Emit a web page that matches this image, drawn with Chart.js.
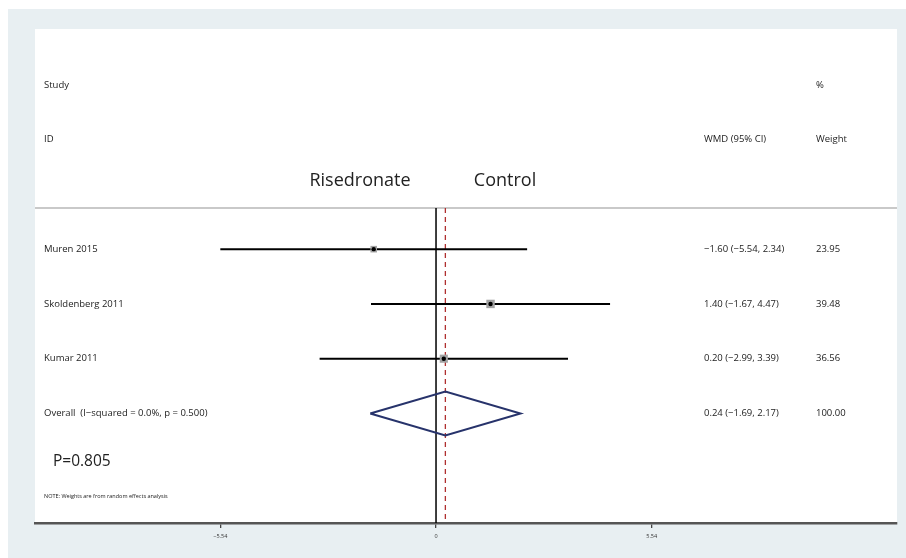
<!DOCTYPE html>
<html><head><meta charset="utf-8">
<script src="https://cdn.jsdelivr.net/npm/chart.js@4/dist/chart.umd.min.js"></script>
<style>html,body{margin:0;padding:0;background:#fff;}#wrap{width:906px;height:558px;position:relative}</style>
</head><body><div id="wrap"><canvas id="c" width="906" height="558"></canvas></div>
<script>
// ---- data ----
const studies = ["Muren 2015", "Skoldenberg 2011", "Kumar 2011"];
const wmd = [-1.60, 1.40, 0.20];
const ciLow = [-5.54, -1.67, -2.99];
const ciHigh = [2.34, 4.47, 3.39];
const weights = [23.95, 39.48, 36.56];
const wmdLabels = ["\u22121.60 (\u22125.54, 2.34)", "1.40 (\u22121.67, 4.47)", "0.20 (\u22122.99, 3.39)"];
const weightLabels = ["23.95", "39.48", "36.56"];
const overallLabel = "Overall  (I\u2212squared = 0.0%, p = 0.500)";
const overallEst = 0.24;
const overallLow = -1.69;
const overallHigh = 2.17;
const overallText = "0.24 (\u22121.69, 2.17)";
const overallWeight = "100.00";
const tickValues = [-5.54, 0, 5.54];
const tickLabels = ["\u22125.54", "0", "5.54"];
const rows = [1, 2, 3];
const overallRow = 4;

// ---- layout ----
const X_MIN = -10.30, X_MAX = 11.84;
const Y_MIN = -3.02, Y_MAX = 6.0;
const RULE_Y = 0.25;
const FONT = "'Open Sans', 'Noto Sans', sans-serif";
const COL_STUDY = 44, COL_WMD = 704, COL_WEIGHT = 816;

const seg = (x1, y1, x2, y2) => [{x: x1, y: y1}, {x: x2, y: y2}];
const lineDs = (data, color, width, extra) => Object.assign({
  type: 'line', data, showLine: true, borderColor: color, borderWidth: width,
  pointRadius: 0, fill: false, tension: 0
}, extra || {});

const datasets = [];
// center dots (top)
datasets.push({
  type: 'scatter', data: wmd.map((v, i) => ({x: v, y: rows[i]})),
  pointStyle: 'circle', pointRadius: 2.2, backgroundColor: '#000', borderWidth: 0
});
// weight boxes
datasets.push({
  type: 'scatter', data: wmd.map((v, i) => ({x: v, y: rows[i]})),
  pointStyle: 'rect', backgroundColor: '#a3a3a3', borderWidth: 0,
  pointRadius: ctx => 0.95 * Math.sqrt(weights[ctx.dataIndex] || 0)
});
// CI lines
rows.forEach((r, i) => datasets.push(lineDs(seg(ciLow[i], r, ciHigh[i], r), '#000', 2)));
// diamond
datasets.push(lineDs([
  {x: overallLow, y: overallRow}, {x: overallEst, y: overallRow - 0.40},
  {x: overallHigh, y: overallRow}, {x: overallEst, y: overallRow + 0.40},
  {x: overallLow, y: overallRow}
], '#27336b', 2));
// dashed overall line
datasets.push(lineDs(seg(overallEst, RULE_Y, overallEst, Y_MAX), '#b03030', 1.3, {borderDash: [5, 4]}));
// zero line
datasets.push(lineDs(seg(0, RULE_Y, 0, Y_MAX), '#000', 1.5));
// header rule
datasets.push(lineDs(seg(X_MIN, RULE_Y, X_MAX, RULE_Y), '#c9c9c9', 2));

const bgPlugin = {
  id: 'bg',
  beforeDraw(chart) {
    const c = chart.ctx;
    c.save();
    c.fillStyle = '#ffffff'; c.fillRect(0, 0, 906, 558);
    c.fillStyle = '#e8eff2'; c.fillRect(8, 9, 898, 549);
    const a = chart.chartArea;
    c.fillStyle = '#ffffff'; c.fillRect(a.left, a.top, a.right - a.left, a.bottom - a.top);
    c.restore();
  }
};

const textPlugin = {
  id: 'texts',
  afterDraw(chart) {
    const c = chart.ctx, y = chart.scales.y;
    c.save();
    c.fillStyle = '#222';
    c.textBaseline = 'middle';
    const t = (s, x, yv, size, align) => {
      c.font = size + 'px ' + FONT; c.textAlign = align || 'left';
      c.fillText(s, x, y.getPixelForValue(yv));
    };
    t("Study", COL_STUDY, -2, 9.5);
    t("%", COL_WEIGHT, -2, 9.5);
    t("ID", COL_STUDY, -1, 9.5);
    t("WMD (95% CI)", COL_WMD, -1, 9.5);
    t("Weight", COL_WEIGHT, -1, 9.5);
    t("Risedronate", 360, -0.24, 18, 'center');
    t("Control", 505, -0.24, 18, 'center');
    rows.forEach((r, i) => {
      t(studies[i], COL_STUDY, r, 9.5);
      t(wmdLabels[i], COL_WMD, r, 9.5);
      t(weightLabels[i], COL_WEIGHT, r, 9.5);
    });
    t(overallLabel, COL_STUDY, overallRow, 9.5);
    t(overallText, COL_WMD, overallRow, 9.5);
    t(overallWeight, COL_WEIGHT, overallRow, 9.5);
    t("P=0.805", 53, 4.87, 15.5);
    t("NOTE: Weights are from random effects analysis", COL_STUDY, 5.52, 5.5);
    c.restore();
  }
};

new Chart(document.getElementById('c'), {
  type: 'scatter',
  data: {datasets},
  plugins: [bgPlugin, textPlugin],
  options: {
    responsive: false, animation: false, devicePixelRatio: 1,
    layout: {padding: {left: 35, right: 9, top: 29, bottom: 0}},
    plugins: {legend: {display: false}, tooltip: {enabled: false}},
    scales: {
      x: {
        type: 'linear', min: X_MIN, max: X_MAX,
        afterBuildTicks: s => { s.ticks = tickValues.map(v => ({value: v})); },
        afterFit: s => { s.height = 35; },
        ticks: {
          autoSkip: false, maxRotation: 0, padding: 5,
          font: {family: FONT, size: 5.5}, color: '#333',
          callback: (v, i) => tickLabels[i]
        },
        grid: {drawOnChartArea: false, drawTicks: true, tickLength: 5, color: '#444', lineWidth: 1.3},
        border: {display: true, color: '#555', width: 2.5}
      },
      y: {type: 'linear', min: Y_MIN, max: Y_MAX, reverse: true, display: false}
    }
  }
});
</script></body></html>
